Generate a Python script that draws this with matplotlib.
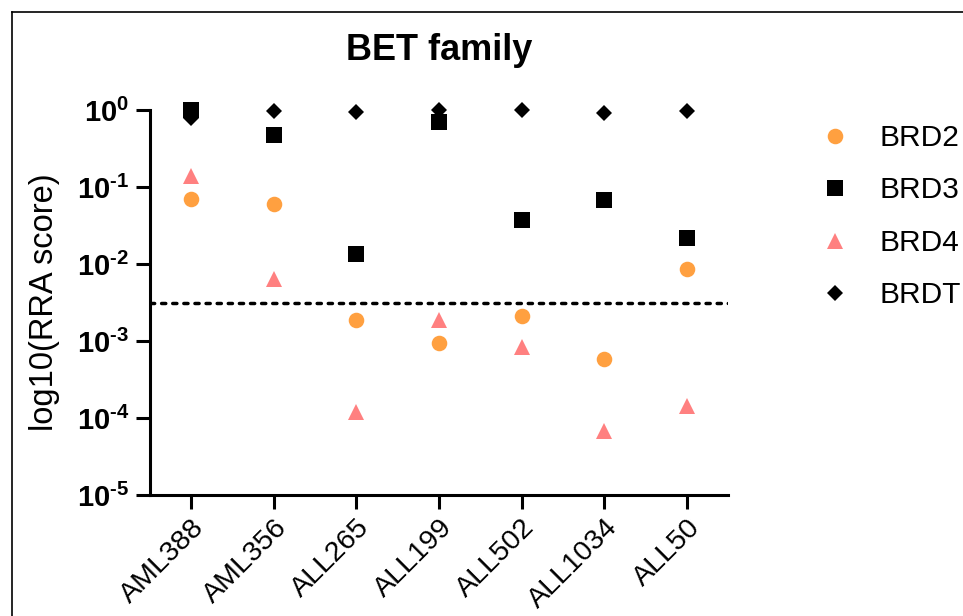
import matplotlib
matplotlib.use("Agg")
import matplotlib.pyplot as plt
from matplotlib.lines import Line2D
import numpy as np

plt.rcParams['font.family'] = ['Liberation Sans', 'DejaVu Sans']
plt.rcParams['mathtext.fontset'] = 'custom'
plt.rcParams['mathtext.rm'] = 'Liberation Sans:bold'
plt.rcParams['mathtext.bf'] = 'Liberation Sans:bold'
plt.rcParams['mathtext.it'] = 'Liberation Sans:bold'

samples = ["AML388", "AML356", "ALL265", "ALL199", "ALL502", "ALL1034", "ALL50"]
brd2 = [0.070, 0.060, 0.0019, 0.00094, 0.0021, 0.00059, 0.0087]
brd3 = [1.0, 0.47, 0.0135, 0.70, 0.037, 0.068, 0.022]
brd4 = [0.14, 0.0064, 0.00012, 0.0019, 0.00083, 0.000068, 0.000144]
brdt = [0.79, 0.97, 0.95, 1.0, 1.0, 0.91, 0.98]
threshold = 0.0031
ytick_vals = [1e-5, 1e-4, 1e-3, 1e-2, 1e-1, 1e0]
ytick_labels = [r"$10^{\text{-5}}$", r"$10^{\text{-4}}$", r"$10^{\text{-3}}$",
                r"$10^{\text{-2}}$", r"$10^{\text{-1}}$", r"$10^{0}$"]

series = [
    ("BRD2", brd2, "o", "#FFA040", 11.2),
    ("BRD3", brd3, "s", "black", 11.5),
    ("BRD4", brd4, "^", "#FF8080", 11.2),
    ("BRDT", brdt, "D", "black", 7.9),
]

fig = plt.figure(figsize=(9.63, 6.16), dpi=100)
ax = fig.add_axes([150/963, 1-495/616, 578/963, 385/616])

x = np.arange(len(samples))
handles = []
for name, vals, mk, col, ms in series:
    ax.plot(x, vals, linestyle="none", marker=mk, color=col, markersize=ms,
            markeredgewidth=0, clip_on=False, zorder=3)
    handles.append(Line2D([], [], linestyle="none", marker=mk, color=col,
                          markersize=ms, markeredgewidth=0, label=name))

ax.axhline(threshold, color="black", linewidth=2.5, linestyle=(0, (1.2, 2.0)),
           dash_capstyle="round", zorder=2)

ax.set_yscale("log")
ax.set_ylim(1e-5, 1)
ax.set_xlim(-0.5, 6.5)
ax.set_yticks(ytick_vals)
ax.set_yticklabels(ytick_labels)
ax.yaxis.set_minor_locator(matplotlib.ticker.NullLocator())
ax.set_xticks(x)
ax.set_xticklabels(samples, rotation=45, ha="right", va="top",
                   rotation_mode="anchor", fontsize=20.5)

for side in ["top", "right"]:
    ax.spines[side].set_visible(False)
for side in ["left", "bottom"]:
    ax.spines[side].set_linewidth(2.2)
ax.tick_params(axis="both", which="major", length=10, width=2.2, direction="out")
ax.tick_params(axis="y", labelsize=21, pad=5)
ax.tick_params(axis="x", pad=4)

ax.set_title("BET family", fontsize=26, fontweight="bold", pad=36)
ax.set_ylabel("log10(RRA score)", fontsize=23.5)
ax.yaxis.set_label_coords(-0.156, 0.50)

fig.legend(handles=handles, loc="upper left", bbox_to_anchor=(820/963, 1-124/616),
           frameon=False, fontsize=21.5, handlelength=1.0, handletextpad=1.0,
           labelspacing=0.82, borderpad=0, borderaxespad=0, numpoints=1)

# outer frame
fig.add_artist(Line2D([12/963, 1.0], [1-12/616, 1-12/616], transform=fig.transFigure,
                      color="black", linewidth=1.2))
fig.add_artist(Line2D([12/963, 12/963], [0.0, 1-12/616], transform=fig.transFigure,
                      color="black", linewidth=1.2))

fig.savefig("out.png", dpi=100)
